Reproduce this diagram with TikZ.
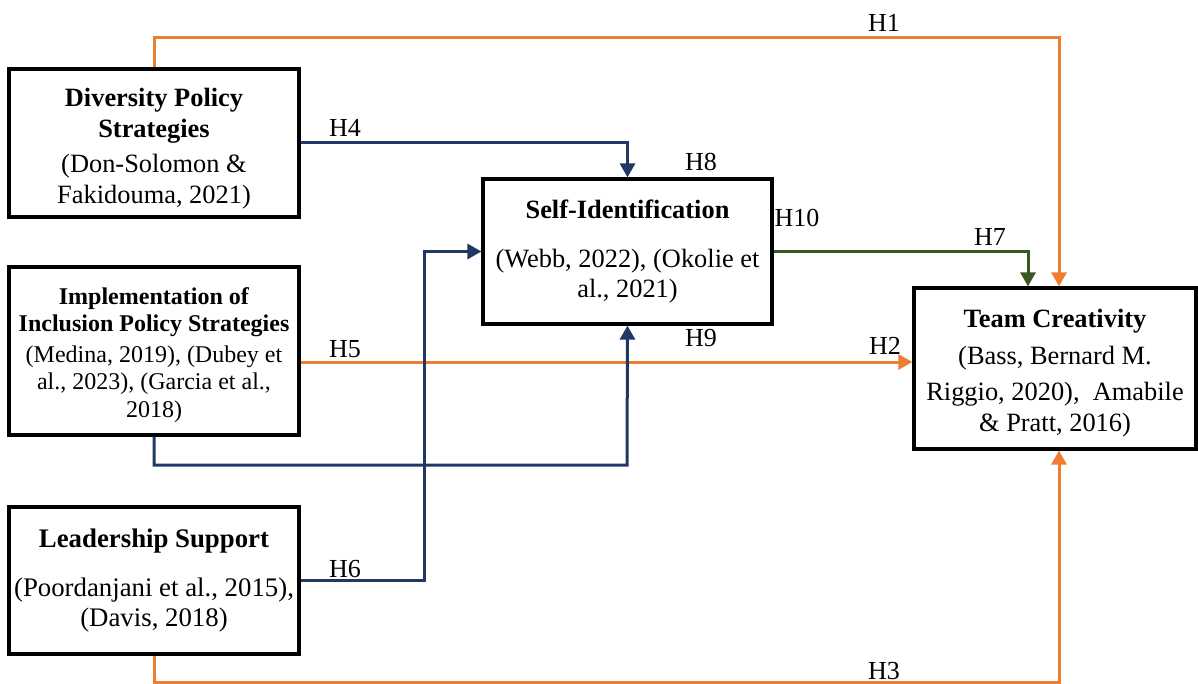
\documentclass[tikz,border=0pt]{standalone}
\usepackage{fontspec}
\setmainfont{Liberation Serif}
\usetikzlibrary{arrows.meta}
\definecolor{orng}{HTML}{ED7D31}
\definecolor{navy}{HTML}{203864}
\definecolor{grn}{HTML}{385723}
\begin{document}
\begin{tikzpicture}[x=0.5pt,y=-0.5pt,
  box/.style={draw=black,line width=1.6pt,fill=white,inner sep=0pt,align=center},
  conn/.style={line width=1.5pt},
  tip/.style={-{Triangle[length=7pt,width=7.5pt]}},
  hl/.style={font=\fontsize{13}{15}\selectfont,inner sep=0pt,anchor=base}]
\useasboundingbox (0,0) rectangle (1198,684);
% boxes
\node[box,minimum width=145pt,minimum height=74pt,font=\fontsize{13.2}{15.3}\selectfont] (dps) at (154,143)
  {\rule{0pt}{15pt}\textbf{Diversity Policy}\\\textbf{Strategies}\\[2.5pt](Don-Solomon \&\\Fakidouma, 2021)};
\node[box,minimum width=145pt,minimum height=84pt,font=\fontsize{12}{13.8}\selectfont] (ips) at (154,351)
  {\rule{0pt}{12.3pt}\textbf{Implementation of}\\\textbf{Inclusion Policy Strategies}\\[1.5pt](Medina, 2019), (Dubey et\\al., 2023), (Garcia et al.,\\2018)};
\node[box,minimum width=145pt,minimum height=73.5pt,font=\fontsize{13.4}{15}\selectfont] (ls) at (154,580.5)
  {\textbf{Leadership Support}\\[9.5pt](Poordanjani et al., 2015),\\(Davis, 2018)};
\node[box,minimum width=144.5pt,minimum height=72.5pt,font=\fontsize{13.2}{15}\selectfont] (si) at (627.5,251.5)
  {\textbf{Self-Identification}\\[9.5pt](Webb, 2022), (Okolie et\\al., 2021)};
\node[box,minimum width=141pt,minimum height=80.5pt,font=\fontsize{13.2}{17}\selectfont] (tc) at (1055,368.5)
  {\rule{0pt}{14pt}\textbf{Team Creativity}\\[1.5pt](Bass, Bernard M.\\[1pt]Riggio, 2020),\ \ Amabile\\[-1.5pt]\& Pratt, 2016)};
% helper coordinates
\coordinate (h1a) at (154,38);
\coordinate (h1b) at (1059,38);
\coordinate (h7c) at (1028,252);
\coordinate (h5y) at (600,362);
\coordinate (b1) at (627,465);
\coordinate (h6c) at (424,400);
\coordinate (h3c) at (1059,682);
% connectors
\draw[conn,orng,tip] (dps.north) -- (h1a) -- (h1b) -- (h1b |- tc.north);
\draw[conn,navy,tip] (dps.east) -| (si.north);
\draw[conn,grn,tip] (si.east) -| (h7c |- tc.north);
\draw[conn,orng,tip] (ips.east |- h5y) -- (tc.west |- h5y);
\draw[conn,navy,tip] (ips.south) |- (b1) -- (si.south);
\draw[conn,navy,tip] (ls.east) -| (h6c |- si.west) -- (si.west);
\draw[conn,orng,tip] (ls.south) |- (h3c) -- (h3c |- tc.south);
% labels
\node[hl] (l1) at (884,32) {H1};
\node[hl] (l4) at (345,137) {H4};
\node[hl] (l8) at (701,171) {H8};
\node[hl] (l10) at (797,227) {H10};
\node[hl] (l7) at (990,246) {H7};
\node[hl] (l5) at (345,357) {H5};
\node[hl] (l9) at (701,346) {H9};
\node[hl] (l2) at (885,354) {H2};
\node[hl] (l6) at (345,577) {H6};
\node[hl] (l3) at (884,679) {H3};
\end{tikzpicture}
\end{document}
